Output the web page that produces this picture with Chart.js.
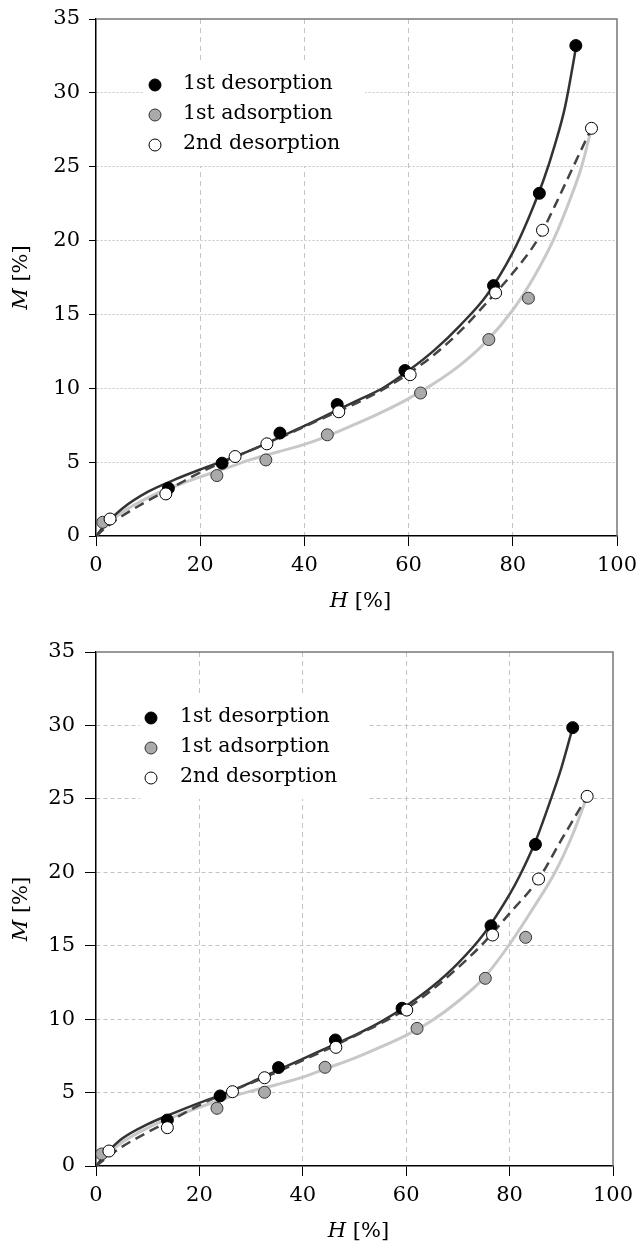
<!DOCTYPE html>
<html>
<head>
<meta charset="utf-8">
<script src="https://cdn.jsdelivr.net/npm/chart.js@4.4.0/dist/chart.umd.min.js"></script>
<style>
body { margin: 0; background: #fff; }
canvas { display: block; }
</style>
</head>
<body>
<canvas id="chart1" width="638" height="623"></canvas>
<canvas id="chart2" width="638" height="624"></canvas>
<script>
// ---- top panel: measured points
var des1H_a = [13.9, 24.2, 35.3, 46.3, 59.3, 76.3, 85.1, 92.1];
var des1M_a = [3.23, 4.93, 6.97, 8.9, 11.2, 16.95, 23.2, 33.2];
var adsH_a = [1.3, 23.2, 32.6, 44.4, 62.3, 75.4, 83.0];
var adsM_a = [0.93, 4.09, 5.15, 6.85, 9.68, 13.3, 16.1];
var des2H_a = [2.7, 13.4, 26.7, 32.8, 46.6, 60.3, 76.7, 85.7, 95.1];
var des2M_a = [1.15, 2.85, 5.38, 6.24, 8.41, 10.92, 16.46, 20.7, 27.6];
// ---- top panel: fitted curves
var fitDes1H_a = [0, 2, 5, 10, 15, 20, 25, 30, 35, 40, 45, 50, 55, 60, 65, 70, 75, 80, 83, 86, 88, 90, 92.2];
var fitDes1M_a = [0, 0.85, 1.85, 3.0, 3.8, 4.5, 5.15, 5.85, 6.65, 7.45, 8.3, 9.15, 10.0, 11.2, 12.6, 14.3, 16.3, 19.2, 21.5, 24.2, 26.4, 29.0, 33.2];
var fitAdsH_a = [0, 2, 5, 10, 15, 20, 25, 30, 35, 40, 45, 50, 55, 60, 65, 70, 75, 80, 84, 88, 91, 93.2, 95.1];
var fitAdsM_a = [0, 0.75, 1.6, 2.6, 3.35, 4.0, 4.6, 5.2, 5.7, 6.2, 6.85, 7.6, 8.4, 9.3, 10.35, 11.6, 13.2, 15.3, 17.5, 20.2, 22.8, 25.0, 27.6];
var fitDes2H_a = [0, 2, 5, 10, 15, 20, 25, 30, 35, 40, 45, 50, 55, 60, 65, 70, 75, 80, 85, 88, 91.6, 95.1];
var fitDes2M_a = [0, 0.6, 1.35, 2.4, 3.35, 4.3, 5.1, 5.85, 6.6, 7.4, 8.2, 9.0, 9.9, 11.0, 12.3, 13.9, 15.8, 17.8, 20.2, 22.3, 25.0, 27.6];

// ---- bottom panel: measured points
var des1H_b = [13.8, 24.0, 35.3, 46.3, 59.2, 76.4, 85.0, 92.2];
var des1M_b = [3.13, 4.77, 6.7, 8.58, 10.74, 16.36, 21.9, 29.85];
var adsH_b = [1.1, 23.4, 32.6, 44.3, 62.1, 75.3, 83.1];
var adsM_b = [0.82, 3.93, 5.02, 6.72, 9.37, 12.78, 15.57];
var des2H_b = [2.5, 13.8, 26.4, 32.6, 46.4, 60.1, 76.7, 85.6, 95.0];
var des2M_b = [1.02, 2.61, 5.06, 6.01, 8.08, 10.62, 15.73, 19.54, 25.17];
// ---- bottom panel: fitted curves
var fitDes1H_b = [0, 2, 5, 10, 15, 20, 25, 30, 35, 40, 45, 50, 55, 60, 65, 70, 75, 80, 82, 85, 88, 90, 92.2];
var fitDes1M_b = [0, 0.85, 1.85, 2.85, 3.6, 4.3, 4.95, 5.7, 6.5, 7.3, 8.1, 8.9, 9.8, 10.9, 12.2, 13.8, 15.8, 18.5, 19.8, 22.1, 25.0, 27.1, 29.85];
var fitAdsH_b = [0, 2, 5, 10, 15, 20, 25, 30, 35, 40, 45, 50, 55, 60, 65, 70, 75, 80, 85, 88.8, 92, 95];
var fitAdsM_b = [0, 0.75, 1.6, 2.6, 3.35, 4.0, 4.6, 5.1, 5.55, 6.05, 6.7, 7.35, 8.1, 8.9, 9.9, 11.2, 12.8, 15.1, 17.8, 20.0, 22.4, 25.17];
var fitDes2H_b = [0, 2, 5, 10, 15, 20, 25, 30, 35, 40, 45, 50, 55, 60, 65, 70, 75, 80, 85.6, 90, 95];
var fitDes2M_b = [0, 0.55, 1.3, 2.3, 3.2, 4.15, 4.95, 5.65, 6.4, 7.2, 8.0, 8.85, 9.7, 10.7, 12.0, 13.5, 15.2, 17.2, 19.54, 22.2, 25.17];

var legendLabels = ['1st desorption', '1st adsorption', '2nd desorption'];
var xTicks = [0, 20, 40, 60, 80, 100];
var yTicks = [0, 5, 10, 15, 20, 25, 30, 35];

var FONT = '"DejaVu Serif", serif';

function pairs(xs, ys) {
  var out = [];
  for (var i = 0; i < xs.length; i++) out.push({x: xs[i], y: ys[i]});
  return out;
}

// legend box, frame and axis titles
var extras = {
  id: 'extras',
  beforeDatasetsDraw: function(chart, args, o) {
    var a = chart.chartArea, ctx = chart.ctx;
    ctx.save();
    ctx.fillStyle = '#fff';
    ctx.fillRect(a.left + o.boxX, a.top + o.boxY, o.boxW, 104);
    // top and right frame
    ctx.strokeStyle = '#777';
    ctx.lineWidth = 1.5;
    ctx.beginPath();
    ctx.moveTo(a.left, a.top);
    ctx.lineTo(a.right, a.top);
    ctx.lineTo(a.right, a.bottom);
    ctx.stroke();
    ctx.restore();
  },
  afterDraw: function(chart, args, o) {
    var a = chart.chartArea, ctx = chart.ctx;
    var fills = ['#000', '#aaaaaa', '#fff'];
    ctx.save();
    for (var i = 0; i < legendLabels.length; i++) {
      var y = a.top + o.boxY + 23 + i * 30;
      ctx.beginPath();
      ctx.arc(a.left + o.boxX + o.mX, y, 6, 0, Math.PI * 2);
      ctx.fillStyle = fills[i];
      ctx.fill();
      ctx.lineWidth = 1;
      ctx.strokeStyle = i == 1 ? '#333' : '#000';
      ctx.stroke();
      ctx.fillStyle = '#000';
      ctx.font = '20.5px ' + FONT;
      ctx.textBaseline = 'middle';
      ctx.textAlign = 'left';
      ctx.fillText(legendLabels[i], a.left + o.boxX + 40, y - 1);
    }
    // axis titles, italic symbol + unit
    ctx.font = 'italic 21px ' + FONT;
    var wH = ctx.measureText('H').width;
    ctx.font = '21px ' + FONT;
    var wU = ctx.measureText(' [%]').width;
    var cx = (a.left + a.right) / 2 + 4 - (wH + wU) / 2;
    var ty = a.bottom + 66;
    ctx.textBaseline = 'middle';
    ctx.font = 'italic 21px ' + FONT;
    ctx.fillText('H', cx, ty);
    ctx.font = '21px ' + FONT;
    ctx.fillText(' [%]', cx + wH, ty);

    ctx.translate(22, (a.top + a.bottom) / 2);
    ctx.rotate(-Math.PI / 2);
    ctx.font = 'italic 21px ' + FONT;
    var wM = ctx.measureText('M').width;
    var start = -(wM + wU) / 2;
    ctx.fillText('M', start, 0);
    ctx.font = '21px ' + FONT;
    ctx.fillText(' [%]', start + wM, 0);
    ctx.restore();
  }
};

function makeChart(id, p, cfg) {
  var ctx = document.getElementById(id).getContext('2d');
  return new Chart(ctx, {
    type: 'scatter',
    data: {
      datasets: [
        { label: legendLabels[2], data: pairs(p.d2H, p.d2M), order: 0,
          pointRadius: 6, pointBackgroundColor: '#fff', pointBorderColor: '#000', pointBorderWidth: 1 },
        { label: legendLabels[0], data: pairs(p.d1H, p.d1M), order: 1,
          pointRadius: 6, pointBackgroundColor: '#000', pointBorderColor: '#000', pointBorderWidth: 1 },
        { label: legendLabels[1], data: pairs(p.aH, p.aM), order: 2,
          pointRadius: 6, pointBackgroundColor: '#aaaaaa', pointBorderColor: '#333', pointBorderWidth: 1 },
        { label: 'fit 2nd desorption', data: pairs(p.fd2H, p.fd2M), order: 3, showLine: true,
          pointRadius: 0, borderColor: '#444', borderWidth: 2.5, borderDash: [10, 6], cubicInterpolationMode: 'monotone' },
        { label: 'fit 1st desorption', data: pairs(p.fd1H, p.fd1M), order: 4, showLine: true,
          pointRadius: 0, borderColor: '#333', borderWidth: 2.5, cubicInterpolationMode: 'monotone' },
        { label: 'fit 1st adsorption', data: pairs(p.faH, p.faM), order: 5, showLine: true,
          pointRadius: 0, borderColor: '#c8c8c8', borderWidth: 3, cubicInterpolationMode: 'monotone' }
      ]
    },
    options: {
      responsive: false,
      animation: false,
      events: [],
      layout: { padding: { top: cfg.padTop, right: cfg.padRight, left: 0, bottom: 0 } },
      plugins: {
        legend: { display: false },
        tooltip: { enabled: false },
        extras: { boxX: cfg.boxX, boxY: 43, boxW: cfg.boxW, mX: cfg.mX }
      },
      scales: {
        x: {
          type: 'linear', min: 0, max: 100,
          afterBuildTicks: function(s) { s.ticks = xTicks.map(function(v) { return {value: v}; }); },
          afterFit: function(s) { s.height = cfg.xH; s.paddingLeft = 0; s.paddingRight = 0; },
          ticks: { color: '#000', font: { family: FONT, size: 21 }, padding: 7, maxRotation: 0 },
          grid: {
            color: function(c) { return c.tick && (c.tick.value == 100 || c.tick.value == 0) ? 'rgba(0,0,0,0)' : '#c4c4c4'; },
            tickColor: '#000', tickLength: 10, lineWidth: 1
          },
          border: { color: '#000', width: 1.5, dash: [5, 4] }
        },
        y: {
          type: 'linear', min: 0, max: 35,
          afterBuildTicks: function(s) { s.ticks = yTicks.map(function(v) { return {value: v}; }); },
          afterFit: function(s) { s.width = 96; s.paddingTop = 0; s.paddingBottom = 0; },
          ticks: { color: '#000', font: { family: FONT, size: 21 }, padding: cfg.yPad },
          grid: {
            color: function(c) { return c.tick && (c.tick.value == 35 || c.tick.value == 0) ? 'rgba(0,0,0,0)' : '#c4c4c4'; },
            tickColor: '#000', tickLength: cfg.yTL, lineWidth: 1
          },
          border: { color: '#000', width: 1.5, dash: cfg.hDash }
        }
      }
    },
    plugins: [extras]
  });
}

makeChart('chart1', {
  d1H: des1H_a, d1M: des1M_a, aH: adsH_a, aM: adsM_a, d2H: des2H_a, d2M: des2M_a,
  fd1H: fitDes1H_a, fd1M: fitDes1M_a, faH: fitAdsH_a, faM: fitAdsM_a, fd2H: fitDes2H_a, fd2M: fitDes2M_a
}, { padTop: 19, padRight: 21, xH: 87, yTL: 7, yPad: 9, boxX: 47, boxW: 222, mX: 12, hDash: [2, 2] });

makeChart('chart2', {
  d1H: des1H_b, d1M: des1M_b, aH: adsH_b, aM: adsM_b, d2H: des2H_b, d2M: des2M_b,
  fd1H: fitDes1H_b, fd1M: fitDes1M_b, faH: fitAdsH_b, faM: fitAdsM_b, fd2H: fitDes2H_b, fd2M: fitDes2M_b
}, { padTop: 29, padRight: 25, xH: 81, yTL: 11, yPad: 10, boxX: 44, boxW: 227, mX: 11, hDash: [4, 3] });
</script>
</body>
</html>
